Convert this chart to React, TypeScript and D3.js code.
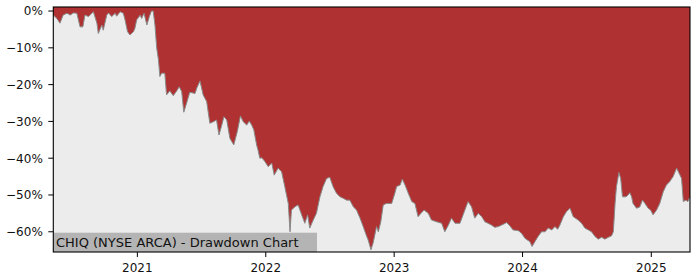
import React from "react";
import * as d3 from "d3";

const dates: string[] = [
  "2020-05-07","2020-05-17","2020-05-26","2020-06-04","2020-06-15","2020-06-24","2020-07-03","2020-07-13","2020-07-22","2020-07-30",
  "2020-08-05","2020-08-15","2020-08-29","2020-09-08","2020-09-12","2020-09-22","2020-09-26","2020-10-06","2020-10-11","2020-10-20",
  "2020-10-30","2020-11-03","2020-11-13","2020-11-22","2020-11-27","2020-12-04","2020-12-11","2020-12-21","2020-12-25","2020-12-30",
  "2021-01-09","2021-01-13","2021-01-20","2021-01-28","2021-02-04","2021-02-10","2021-02-15","2021-02-20","2021-02-25","2021-03-02",
  "2021-03-06","2021-03-11","2021-03-20","2021-03-25","2021-04-03","2021-04-13","2021-04-23","2021-04-30","2021-05-07","2021-05-13",
  "2021-05-21","2021-05-30","2021-06-14","2021-06-19","2021-06-28","2021-07-07","2021-07-17","2021-07-26","2021-08-05","2021-08-14",
  "2021-08-21","2021-08-29","2021-09-04","2021-09-12","2021-09-21","2021-10-02","2021-10-12","2021-10-21","2021-10-29","2021-11-08",
  "2021-11-15","2021-11-22","2021-11-28","2021-12-06","2021-12-10","2021-12-15","2021-12-21","2021-12-30","2022-01-08","2022-01-18",
  "2022-01-25","2022-02-05","2022-02-15","2022-02-24","2022-03-06","2022-03-11","2022-03-15","2022-03-25","2022-04-03","2022-04-13",
  "2022-04-22","2022-04-30","2022-05-06","2022-05-16","2022-05-25","2022-06-04","2022-06-13","2022-06-23","2022-07-02","2022-07-12",
  "2022-07-21","2022-07-31","2022-08-09","2022-08-19","2022-08-28","2022-09-07","2022-09-16","2022-09-26","2022-10-05","2022-10-15",
  "2022-10-19","2022-10-27","2022-11-02","2022-11-12","2022-11-17","2022-11-24","2022-12-01","2022-12-10","2022-12-25","2023-01-03",
  "2023-01-08","2023-01-18","2023-01-24","2023-02-01","2023-02-10","2023-02-20","2023-03-01","2023-03-10","2023-03-18","2023-03-27",
  "2023-04-08","2023-04-17","2023-05-02","2023-05-16","2023-05-25","2023-06-04","2023-06-13","2023-06-23","2023-07-07","2023-07-16",
  "2023-07-21","2023-07-30","2023-08-09","2023-08-18","2023-08-28","2023-09-07","2023-09-16","2023-09-25","2023-10-05","2023-10-14",
  "2023-10-24","2023-11-02","2023-11-17","2023-11-26","2023-12-05","2023-12-20","2023-12-29","2024-01-08","2024-01-22","2024-01-28",
  "2024-02-05","2024-02-14","2024-02-24","2024-03-05","2024-03-14","2024-03-24","2024-04-02","2024-04-10","2024-04-16","2024-04-26",
  "2024-05-05","2024-05-15","2024-05-24","2024-06-07","2024-06-17","2024-06-26","2024-07-06","2024-07-15","2024-07-25","2024-08-03",
  "2024-08-13","2024-08-22","2024-09-01","2024-09-10","2024-09-15","2024-09-20","2024-09-24","2024-10-01","2024-10-06","2024-10-11",
  "2024-10-21","2024-10-27","2024-11-01","2024-11-06","2024-11-10","2024-11-20","2024-11-29","2024-12-07","2024-12-14","2024-12-23",
  "2024-12-30","2025-01-06","2025-01-16","2025-01-25","2025-02-04","2025-02-13","2025-02-22","2025-03-04","2025-03-14","2025-03-21",
  "2025-03-28","2025-04-02","2025-04-09","2025-04-15","2025-04-21"
];

const drawdown: number[] = [
  -1.1,-2.0,-3.3,-1.1,-0.6,-1.1,-0.5,-0.6,-4.3,-4.3,
  -1.1,-1.5,-0.2,-3.3,-6.1,-3.8,-5.2,-1.1,-0.5,-1.5,
  -0.6,-1.4,-0.2,-0.6,-2.4,-5.6,-6.5,-5.6,-4.7,-2.4,
  -1.1,-2.0,-0.6,-3.8,-1.5,0,0,-3.8,-10.1,-13.3,
  -17.8,-16.9,-16.9,-22.8,-21.7,-23.0,-21.7,-20.6,-21.9,-27.5,
  -25.0,-22.1,-22.4,-20.9,-19.0,-22.8,-24.6,-30.5,-30.1,-29.6,
  -33.7,-31.0,-28.7,-29.6,-34.6,-36.4,-32.8,-28.5,-30.1,-31.0,
  -29.9,-31.0,-32.3,-36.4,-37.8,-40.0,-39.9,-41.0,-42.3,-41.3,
  -44.6,-42.7,-43.7,-47.7,-52.3,-60.0,-54.1,-53.2,-52.7,-55.4,
  -57.7,-55.4,-59.0,-56.8,-55.0,-50.5,-47.7,-45.5,-45.2,-47.9,
  -49.5,-50.5,-50.9,-51.4,-51.4,-53.2,-54.1,-56.3,-58.6,-61.3,
  -62.2,-64.9,-63.1,-58.6,-60.0,-57.3,-52.7,-52.3,-52.3,-49.5,
  -47.7,-47.3,-45.7,-47.3,-49.5,-51.8,-52.3,-55.9,-55.0,-54.1,
  -55.0,-56.8,-57.3,-57.7,-60.0,-58.2,-56.3,-57.7,-57.7,-55.4,
  -54.1,-51.8,-53.2,-56.3,-55.0,-55.9,-57.3,-57.7,-58.2,-58.8,
  -58.6,-58.2,-57.5,-58.4,-59.5,-59.7,-60.4,-61.8,-62.7,-64.0,
  -62.7,-61.3,-60.0,-60.0,-59.0,-59.5,-58.6,-59.3,-58.2,-55.9,
  -54.5,-53.6,-55.9,-56.8,-57.7,-59.0,-59.5,-60.0,-61.3,-62.0,
  -61.5,-62.0,-61.5,-61.1,-60.0,-52.3,-47.7,-43.9,-45.5,-50.5,
  -50.5,-50.0,-49.4,-50.5,-52.3,-53.6,-53.3,-51.4,-52.3,-53.6,
  -54.1,-55.4,-54.1,-52.3,-49.1,-47.3,-46.4,-45.0,-42.7,-44.1,
  -45.5,-51.8,-51.4,-51.8,-50.5
];

const yTicks: number[] = [0, -10, -20, -30, -40, -50, -60];
const xTickYears: number[] = [2021, 2022, 2023, 2024, 2025];
const title = "CHIQ (NYSE ARCA) - Drawdown Chart";

export default function App() {
  const W = 700, H = 280;
  const left = 53.3, right = 690, top = 7, bottom = 252;
  const parse = d3.timeParse("%Y-%m-%d");
  const pts = dates.map((d, i) => ({ t: parse(d) as Date, v: drawdown[i] }));
  const x = d3.scaleTime()
    .domain([pts[0].t, pts[pts.length - 1].t])
    .range([left, right]);
  const y = d3.scaleLinear().domain([-65.5, 1.1]).range([bottom, top]);

  const area = d3.area<{ t: Date; v: number }>()
    .x(p => x(p.t))
    .y0(top)
    .y1(p => y(p.v));
  const line = d3.line<{ t: Date; v: number }>()
    .x(p => x(p.t))
    .y(p => y(p.v));

  const font = "DejaVu Sans, sans-serif";
  const fmt = (v: number) => (v < 0 ? "\u2212" + Math.abs(v) : String(v)) + "%";

  return (
    <div style={{ position: "fixed", left: 0, top: 0, width: W, height: H, background: "#fff" }}>
      <svg width={W} height={H} style={{ display: "block" }}>
        <rect x={left} y={top} width={right - left} height={bottom - top} fill="#ececec" />
        <path d={area(pts) || ""} fill="#b03131" />
        <path d={line(pts) || ""} fill="none" stroke="#8a8a8a" strokeWidth={1} />
        <rect x={left} y={232.7} width={317 - left} height={bottom - 232.7} fill="#b4b4b4" />
        <text x={56} y={246.5} fontFamily={font} fontSize={13} fill="#111">{title}</text>
        <rect x={left} y={top} width={right - left} height={bottom - top} fill="none" stroke="#000" strokeWidth={1.1} />
        {yTicks.map(v => (
          <g key={v}>
            <line x1={left - 5} x2={left} y1={y(v)} y2={y(v)} stroke="#000" strokeWidth={1} />
            <text x={left - 10.5} y={y(v)} dy="0.36em" textAnchor="end" fontFamily={font} fontSize={12} fill="#111">{fmt(v)}</text>
          </g>
        ))}
        {xTickYears.map(yr => {
          const xx = x(new Date(yr, 0, 1));
          return (
            <g key={yr}>
              <line x1={xx} x2={xx} y1={bottom} y2={bottom + 5} stroke="#000" strokeWidth={1} />
              <text x={xx} y={bottom + 19.5} textAnchor="middle" fontFamily={font} fontSize={12} fill="#111">{yr}</text>
            </g>
          );
        })}
      </svg>
    </div>
  );
}
